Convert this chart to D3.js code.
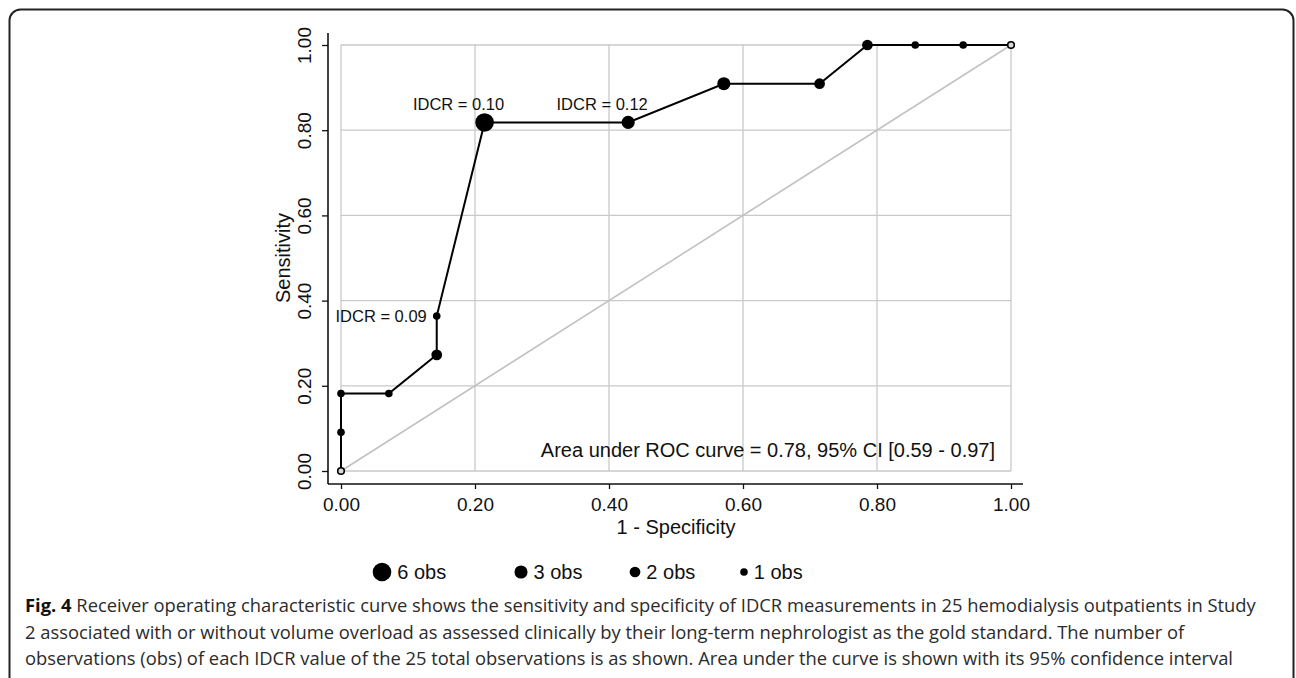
<!DOCTYPE html>
<html>
<head>
<meta charset="utf-8">
<script src="https://cdn.jsdelivr.net/npm/d3@7"></script>
<style>
  body { margin: 0; background: #fff; }
  svg text { font-family: "Liberation Sans", Arial, sans-serif; }
  svg .caption text { font-family: "Open Sans", "Noto Sans", sans-serif; fill: #2b2b2b; }
</style>
</head>
<body>
<div id="chart"></div>
<script>
// ROC points
var fpr = [0, 0, 0, 0.0714, 0.1429, 0.1429, 0.2143, 0.4286, 0.5714, 0.7143, 0.7857, 0.8571, 0.9286, 1]
var tpr = [0, 0.0909, 0.1818, 0.1818, 0.2727, 0.3636, 0.8182, 0.8182, 0.9091, 0.9091, 1, 1, 1, 1]
var obs = [0, 1, 1, 1, 2, 1, 6, 3, 3, 2, 2, 1, 1, 0]
var cutLabels = [{ i: 5, text: "IDCR = 0.09" }, { i: 6, text: "IDCR = 0.10" }, { i: 7, text: "IDCR = 0.12" }]
var ticks = [0, 0.2, 0.4, 0.6, 0.8, 1]
var legendObs = [6, 3, 2, 1]
var aucText = "Area under ROC curve = 0.78, 95% CI [0.59 - 0.97]"
var captionLines = [
  "Receiver operating characteristic curve shows the sensitivity and specificity of IDCR measurements in 25 hemodialysis outpatients in Study",
  "2 associated with or without volume overload as assessed clinically by their long-term nephrologist as the gold standard. The number of",
  "observations (obs) of each IDCR value of the 25 total observations is as shown. Area under the curve is shown with its 95% confidence interval"
]

var W = 1296, H = 678
var svg = d3.select('#chart').append('svg').attr('width', W).attr('height', H)

// frame
svg.append('rect').attr('x', 9.5).attr('y', 9.5).attr('width', 1284).attr('height', 690)
  .attr('rx', 11).attr('fill', 'none').attr('stroke', '#222').attr('stroke-width', 2)

var x = d3.scaleLinear().domain([0, 1]).range([341, 1011])
var y = d3.scaleLinear().domain([0, 1]).range([471, 45])
var r = d3.scaleSqrt().domain([0, 6]).range([0, 9.3])
var fmt = d3.format('.2f')

// grid
var grid = svg.append('g').attr('stroke', '#c9c9c9').attr('stroke-width', 1.3)
grid.selectAll('.gx').data(ticks).enter().append('line')
  .attr('x1', d => x(d)).attr('x2', d => x(d)).attr('y1', y(0)).attr('y2', y(1))
grid.selectAll('.gy').data(ticks).enter().append('line')
  .attr('x1', x(0)).attr('x2', x(1)).attr('y1', d => y(d)).attr('y2', d => y(d))

// reference diagonal
svg.append('line').attr('x1', x(0)).attr('y1', y(0)).attr('x2', x(1)).attr('y2', y(1))
  .attr('stroke', '#c2c2c2').attr('stroke-width', 1.6)

// axes
var axisY = d3.axisLeft(y).tickValues(ticks).tickFormat(fmt).tickSize(6).tickSizeOuter(0)
var gy = svg.append('g').attr('transform', 'translate(328,0)').call(axisY)
gy.select('.domain').attr('d', 'M0,33V484').attr('stroke', '#111').attr('stroke-width', 1.6)
gy.selectAll('.tick line').attr('stroke', '#111').attr('stroke-width', 1.3)
gy.selectAll('.tick text').attr('font-size', 19).attr('fill', '#111')
  .attr('text-anchor', 'middle').attr('x', null).attr('dy', null)
  .attr('transform', 'translate(-17,0) rotate(-90)')

var axisX = d3.axisBottom(x).tickValues(ticks).tickFormat(fmt).tickSize(5).tickSizeOuter(0)
var gx = svg.append('g').attr('transform', 'translate(0,484)').call(axisX)
gx.select('.domain').attr('d', 'M328,0H1023').attr('stroke', '#111').attr('stroke-width', 1.6)
gx.selectAll('.tick line').attr('stroke', '#111').attr('stroke-width', 1.3)
gx.selectAll('.tick text').attr('font-size', 19).attr('fill', '#111')
  .attr('y', 27).attr('dy', null)

svg.append('text').attr('transform', 'translate(290,' + ((y(0) + y(1)) / 2) + ') rotate(-90)')
  .attr('text-anchor', 'middle').attr('font-size', 20).attr('fill', '#111').text('Sensitivity')
svg.append('text').attr('x', (x(0) + x(1)) / 2).attr('y', 534)
  .attr('text-anchor', 'middle').attr('font-size', 20).attr('fill', '#111').text('1 - Specificity')

// ROC curve
var pts = fpr.map((d, i) => ({ fx: d, ty: tpr[i], n: obs[i] }))
var lineFunc = d3.line().x(d => x(d.fx)).y(d => y(d.ty))
svg.append('path').attr('d', lineFunc(pts)).attr('fill', 'none')
  .attr('stroke', '#000').attr('stroke-width', 2)

svg.selectAll('.point').data(pts).enter().append('circle')
  .attr('cx', d => x(d.fx)).attr('cy', d => y(d.ty))
  .attr('r', d => d.n > 0 ? r(d.n) : 3.3)
  .attr('fill', d => d.n > 0 ? '#000' : '#d8d8d8')
  .attr('stroke', '#000').attr('stroke-width', d => d.n > 0 ? 0 : 1.6)

// cutoff labels
cutLabels.forEach(function (l) {
  var p = pts[l.i]
  var t = svg.append('text').attr('font-size', 16.5).attr('fill', '#111').text(l.text)
  if (l.i === 5) {
    t.attr('x', x(p.fx) - 10).attr('y', y(p.ty) + 6).attr('text-anchor', 'end')
  } else {
    t.attr('x', x(p.fx) - 26).attr('y', y(p.ty) - 12).attr('text-anchor', 'middle')
  }
})

svg.append('text').attr('x', 995).attr('y', 457).attr('text-anchor', 'end')
  .attr('font-size', 20).attr('fill', '#111').text(aucText)

// legend
var legPos = { 6: 382, 3: 521, 2: 635, 1: 744 }
var leg = svg.selectAll('.leg').data(legendObs).enter().append('g')
  .attr('transform', d => 'translate(' + legPos[d] + ',572)')
leg.append('circle').attr('r', d => r(d)).attr('fill', '#000')
leg.append('text').attr('x', d => r(d) + 6).attr('y', 7).attr('font-size', 20).attr('fill', '#111')
  .text(d => d + ' obs')

// caption
var cap = svg.append('g').attr('class', 'caption')
var first = cap.append('text').attr('x', 25).attr('y', 612).attr('font-size', 20)
first.append('tspan').attr('font-weight', 'bold').style('fill', '#111').text('Fig. 4')
first.append('tspan').text(' ' + captionLines[0])
var w = first.node().getComputedTextLength()
var fs = 20 * 1232 / w
first.attr('font-size', fs)
captionLines.slice(1).forEach(function (line, i) {
  cap.append('text').attr('x', 25).attr('y', 612 + 26.5 * (i + 1)).attr('font-size', fs).text(line)
})
</script>
</body>
</html>
